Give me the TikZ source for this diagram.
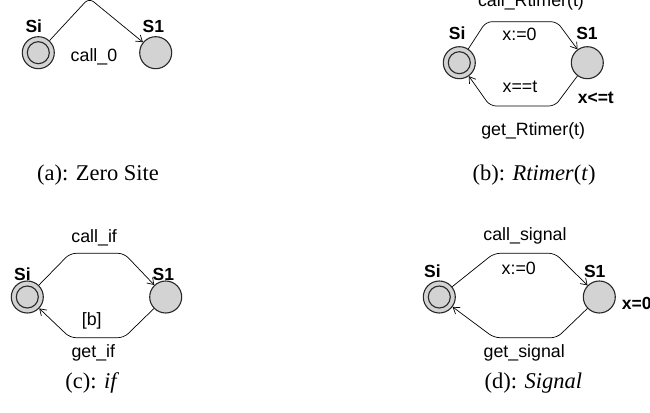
\documentclass[tikz,border=0pt]{standalone}
\usepackage{fontspec}
\setmainfont{Liberation Serif}
\newfontfamily\labfont{Liberation Sans}
\usetikzlibrary{arrows.meta}
\definecolor{locfill}{RGB}{211,211,211}
\definecolor{locline}{RGB}{40,40,40}
\tikzset{
  loc/.style={circle, draw=locline, line width=1.1pt, fill=locfill, minimum size=32pt, inner sep=0pt},
  initloc/.style={loc, path picture={\draw[locline, line width=1.1pt] (path picture bounding box.center) circle (11pt);}},
  trans/.style={draw=black, line width=0.7pt, rounded corners=6pt, -{Straight Barb[length=6pt,width=8pt]}},
  lab/.style={font=\labfont\fontsize{17.8}{20}\selectfont, inner sep=0pt, anchor=base},
  blab/.style={font=\labfont\bfseries\fontsize{17.5}{20}\selectfont, inner sep=0pt, anchor=base},
  captxt/.style={font=\fontsize{22.5}{26}\selectfont, inner sep=0pt, anchor=base},
}
\begin{document}
\begin{tikzpicture}[x=1pt, y=-1pt]
\useasboundingbox (0,0) rectangle (650,412);

% ---------- (a) Zero Site ----------
\node[initloc] (aSi) at (38.3,52.7) {};
\node[loc] (aS1) at (155.7,52.7) {};
\coordinate (aP) at (89,-2);
\draw[trans] (aSi) -- (aP) -- (aS1);
\node[blab] (aSiL) at (33.8,32.2) {Si};
\node[blab] (aS1L) at (153.3,32.2) {S1};
\node[lab] (aCall) at (94,61.6) {call\_0};
\node[captxt] (aCap) at (98,180.5) {(a): Zero Site};

% ---------- (b) Rtimer(t) ----------
\node[initloc] (bSi) at (459.3,62.7) {};
\node[loc] (bS1) at (587.3,62.7) {};
\coordinate (bU1) at (486,21.7);
\coordinate (bU2) at (557,21.7);
\coordinate (bL1) at (555,106);
\coordinate (bL2) at (490,106);
\draw[trans] (bSi) -- (bU1) -- (bU2) -- (bS1);
\draw[trans] (bS1) -- (bL1) -- (bL2) -- (bSi);
\node[blab] (bSiL) at (457.2,39.9) {Si};
\node[blab] (bS1L) at (587,39.9) {S1};
\node[lab] (bCall) at (531,6.5) {call\_Rtimer(t)};
\node[lab] (bAss) at (519.5,40.6) {x:=0};
\node[lab] (bGrd) at (520,92.3) {x==t};
\node[blab] (bInv) at (595.8,103.9) {x<=t};
\node[lab] (bGet) at (533.2,135.6) {get\_Rtimer(t)};
\node[captxt] (bCap) at (534,180.5) {(b): \textit{Rtimer}(\textit{t})};

% ---------- (c) if ----------
\node[initloc] (cSi) at (27.3,297) {};
\node[loc] (cS1) at (165.7,297) {};
\coordinate (cU1) at (70,253.3);
\coordinate (cU2) at (124,253.3);
\coordinate (cL1) at (124,337.7);
\coordinate (cL2) at (70,337.7);
\draw[trans] (cSi) -- (cU1) -- (cU2) -- (cS1);
\draw[trans] (cS1) -- (cL1) -- (cL2) -- (cSi);
\node[blab] (cSiL) at (22.5,280.5) {Si};
\node[blab] (cS1L) at (163.3,280.5) {S1};
\node[lab] (cCall) at (94.2,242.3) {call\_if};
\node[lab] (cGrd) at (91.7,325) {[b]};
\node[lab] (cGet) at (93.3,357) {get\_if};
\node[captxt] (cCap) at (92.2,388.5) {(c): \textit{if}};

% ---------- (d) Signal ----------
\node[initloc] (dSi) at (439.3,297) {};
\node[loc] (dS1) at (599.3,297) {};
\coordinate (dU1) at (494,253.3);
\coordinate (dU2) at (555,253.3);
\coordinate (dL1) at (557,337.7);
\coordinate (dL2) at (494,337.7);
\draw[trans] (dSi) -- (dU1) -- (dU2) -- (dS1);
\draw[trans] (dS1) -- (dL1) -- (dL2) -- (dSi);
\node[blab] (dSiL) at (432.5,277.2) {Si};
\node[blab] (dS1L) at (594.7,277.2) {S1};
\node[lab] (dCall) at (525,240.6) {call\_signal};
\node[lab] (dAss) at (518.8,274) {x:=0};
\node[blab, anchor=base west] (dInv) at (621.7,309.5) {x=0};
\node[lab] (dGet) at (524.2,357.3) {get\_signal};
\node[captxt] (dCap) at (533.3,388.5) {(d): \textit{Signal}};
\end{tikzpicture}
\end{document}
